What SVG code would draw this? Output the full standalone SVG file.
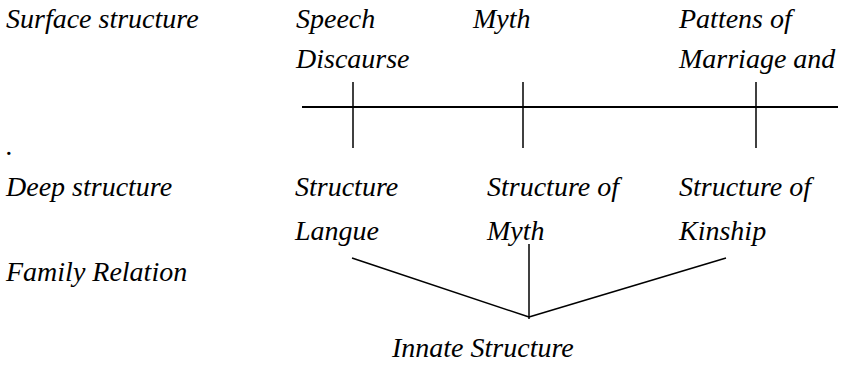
<svg xmlns="http://www.w3.org/2000/svg" width="846" height="369" viewBox="0 0 846 369">
<style>
text{font-family:"Liberation Serif",serif;font-style:italic;font-size:28px;fill:#000}
line{stroke:#000;stroke-width:1.5}
.thick{stroke-width:2.2}
</style>
<rect width="846" height="369" fill="#fff"/>
<g id="labels">
<text x="6" y="28">Surface structure</text>
<text x="6" y="155">.</text>
<text x="6" y="196">Deep structure</text>
<text x="6" y="281">Family Relation</text>
</g>
<g id="node-speech"><text x="296" y="28">Speech</text><text x="296" y="68">Discaurse</text></g>
<g id="node-myth"><text x="473" y="28">Myth</text></g>
<g id="node-pattens"><text x="679" y="28">Pattens of</text><text x="679" y="68">Marriage and</text></g>
<g id="node-langue"><text x="295" y="196">Structure</text><text x="295" y="240">Langue</text></g>
<g id="node-structmyth"><text x="487" y="196">Structure of</text><text x="487" y="240">Myth</text></g>
<g id="node-kinship"><text x="679" y="196">Structure of</text><text x="679" y="240">Kinship</text></g>
<g id="node-innate"><text x="392" y="357">Innate Structure</text></g>
<g id="connectors">
<line class="thick" x1="302" y1="107" x2="838" y2="107"/>
<line x1="353" y1="82" x2="353" y2="148"/>
<line x1="523" y1="82" x2="523" y2="148"/>
<line x1="756" y1="82" x2="756" y2="148"/>
<line x1="352" y1="258" x2="529" y2="317"/>
<line x1="529" y1="244" x2="529" y2="319"/>
<line x1="726" y1="258" x2="529" y2="317"/>
</g>
</svg>
